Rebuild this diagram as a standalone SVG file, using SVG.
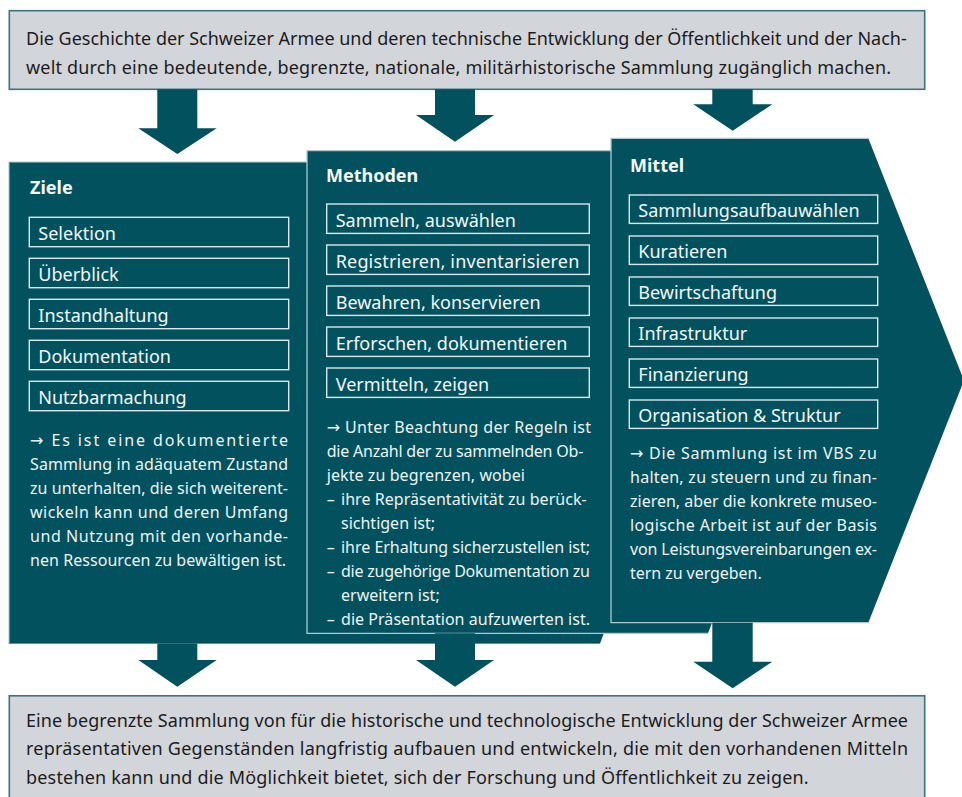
<svg xmlns="http://www.w3.org/2000/svg" width="962" height="797" viewBox="0 0 962 797">
  <defs>
    <style>
      .panel { fill: #02515f; }
      .edge { fill: none; stroke: #b3c8ce; stroke-width: 1.3; }
      .edge-dim { fill: none; stroke: #5d8f9b; stroke-width: 1.2; }
      .item { fill: none; stroke: #dde6e9; stroke-width: 1.4; }
      .frame { fill: #d2d5da; stroke: #3b7381; stroke-width: 1.6; }
      .arrow { fill: #02515f; }
      text { font-family: "Noto Sans", "Open Sans", "DejaVu Sans", sans-serif; }
      .title { font-size: 18px; font-weight: bold; fill: #f4f7f8; }
      .label { font-size: 18px; fill: #f4f7f8; }
      .body { font-size: 16px; fill: #eef3f4; }
      .lead { font-size: 18px; fill: #1c1c1c; }
    </style>
  </defs>

  <!-- Mission statement -->
  <g id="mission">
    <rect class="frame" x="9.3" y="10.7" width="915.4" height="78.6"/>
    <text class="lead" x="26" y="45" textLength="880.7" lengthAdjust="spacing">Die Geschichte der Schweizer Armee und deren technische Entwicklung der Öffentlichkeit und der Nach-</text>
    <text class="lead" x="26" y="74" textLength="865" lengthAdjust="spacing">welt durch eine bedeutende, begrenzte, nationale, militärhistorische Sammlung zugänglich machen.</text>
  </g>

  <!-- Ziele -->
  <g id="ziele">
    <polygon class="panel" points="9.3,162.3 600,162.3 690,403 600,643.5 9.3,643.5"/>
    <polyline class="edge-dim" points="600,643.5 9.3,643.5 9.3,162.3 307,162.3"/>
    <text class="title" x="30" y="194">Ziele</text>
    <rect class="item" x="29.3" y="217.3" width="259.4" height="29.4"/>
    <text class="label" x="38.3" y="240">Selektion</text>
    <rect class="item" x="29.3" y="258.3" width="259.4" height="29.4"/>
    <text class="label" x="38.3" y="281">Überblick</text>
    <rect class="item" x="29.3" y="299.3" width="259.4" height="29.4"/>
    <text class="label" x="38.3" y="322">Instandhaltung</text>
    <rect class="item" x="29.3" y="340.3" width="259.4" height="29.4"/>
    <text class="label" x="38.3" y="363">Dokumentation</text>
    <rect class="item" x="29.3" y="381.3" width="259.4" height="29.4"/>
    <text class="label" x="38.3" y="404">Nutzbarmachung</text>
    <text class="body" x="30" y="445.7" textLength="258" lengthAdjust="spacing">→ Es ist eine dokumentierte</text>
    <text class="body" x="30" y="469.9" textLength="258" lengthAdjust="spacing">Sammlung in adäquatem Zustand</text>
    <text class="body" x="30" y="494" textLength="258" lengthAdjust="spacing">zu unterhalten, die sich weiterent-</text>
    <text class="body" x="30" y="518.2" textLength="258" lengthAdjust="spacing">wickeln kann und deren Umfang</text>
    <text class="body" x="30" y="542.3" textLength="258" lengthAdjust="spacing">und Nutzung mit den vorhande-</text>
    <text class="body" x="30" y="566.3" textLength="256" lengthAdjust="spacing">nen Ressourcen zu bewältigen ist.</text>
  </g>

  <!-- Methoden -->
  <g id="methoden">
    <polygon class="panel" points="307,150.7 711,150.7 800,392 708,633.3 307,633.3"/>
    <polyline class="edge" points="708,633.3 307,633.3 307,150.7 611,150.7"/>
    <text class="title" x="326" y="181.7">Methoden</text>
    <rect class="item" x="326.7" y="204" width="262.6" height="29.4"/>
    <text class="label" x="335.7" y="226.7">Sammeln, auswählen</text>
    <rect class="item" x="326.7" y="245" width="262.6" height="29.4"/>
    <text class="label" x="335.7" y="267.7" textLength="243.6" lengthAdjust="spacing">Registrieren, inventarisieren</text>
    <rect class="item" x="326.7" y="286" width="262.6" height="29.4"/>
    <text class="label" x="335.7" y="308.7">Bewahren, konservieren</text>
    <rect class="item" x="326.7" y="327" width="262.6" height="29.4"/>
    <text class="label" x="335.7" y="349.7">Erforschen, dokumentieren</text>
    <rect class="item" x="326.7" y="368" width="262.6" height="29.4"/>
    <text class="label" x="335.7" y="390.7">Vermitteln, zeigen</text>
    <text class="body" x="326.7" y="433.3" textLength="264.3" lengthAdjust="spacing">→ Unter Beachtung der Regeln ist</text>
    <text class="body" x="326.7" y="457.3" textLength="256.6" lengthAdjust="spacing">die Anzahl der zu sammelnden Ob-</text>
    <text class="body" x="326.7" y="481.3" textLength="198.3" lengthAdjust="spacing">jekte zu begrenzen, wobei</text>
    <text class="body" y="505.3"><tspan x="326.7">–</tspan><tspan x="341" textLength="245.7" lengthAdjust="spacing">ihre Repräsentativität zu berück-</tspan></text>
    <text class="body" x="341" y="529.3">sichtigen ist;</text>
    <text class="body" y="553.3"><tspan x="326.7">–</tspan><tspan x="341" textLength="249" lengthAdjust="spacing">ihre Erhaltung sicherzustellen ist;</tspan></text>
    <text class="body" y="577.3"><tspan x="326.7">–</tspan><tspan x="341" textLength="249" lengthAdjust="spacing">die zugehörige Dokumentation zu</tspan></text>
    <text class="body" x="341" y="601.3">erweitern ist;</text>
    <text class="body" y="625.3"><tspan x="326.7">–</tspan><tspan x="341" textLength="249" lengthAdjust="spacing">die Präsentation aufzuwerten ist.</tspan></text>
  </g>

  <!-- Mittel -->
  <g id="mittel">
    <polygon class="panel" points="611,138.3 868.3,138.3 964,380.5 868.3,622.7 611,622.7"/>
    <polyline class="edge" points="868.3,622.7 611,622.7 611,138.3 868.3,138.3"/>
    <text class="title" x="630" y="171.7">Mittel</text>
    <rect class="item" x="629.3" y="195" width="248.4" height="28.4"/>
    <text class="label" x="638.3" y="217.3">Sammlungsaufbauwählen</text>
    <rect class="item" x="629.3" y="236" width="248.4" height="28.4"/>
    <text class="label" x="638.3" y="258.3">Kuratieren</text>
    <rect class="item" x="629.3" y="277" width="248.4" height="28.4"/>
    <text class="label" x="638.3" y="299.3">Bewirtschaftung</text>
    <rect class="item" x="629.3" y="318" width="248.4" height="28.4"/>
    <text class="label" x="638.3" y="340.3">Infrastruktur</text>
    <rect class="item" x="629.3" y="359" width="248.4" height="28.4"/>
    <text class="label" x="638.3" y="381.3">Finanzierung</text>
    <rect class="item" x="629.3" y="400" width="248.4" height="28.4"/>
    <text class="label" x="638.3" y="422.3">Organisation &amp; Struktur</text>
    <text class="body" x="630" y="459" textLength="247" lengthAdjust="spacing">→ Die Sammlung ist im VBS zu</text>
    <text class="body" x="630" y="483" textLength="247" lengthAdjust="spacing">halten, zu steuern und zu finan-</text>
    <text class="body" x="630" y="507" textLength="247" lengthAdjust="spacing">zieren, aber die konkrete museo-</text>
    <text class="body" x="630" y="531" textLength="247" lengthAdjust="spacing">logische Arbeit ist auf der Basis</text>
    <text class="body" x="630" y="555" textLength="247" lengthAdjust="spacing">von Leistungsvereinbarungen ex-</text>
    <text class="body" x="630" y="578.5" textLength="131.7" lengthAdjust="spacing">tern zu vergeben.</text>
  </g>

  <!-- Connectors: block arrows -->
  <g id="connectors">
    <polygon class="arrow" points="157.3,89.3 197.3,89.3 197.3,128.3 216.7,128.3 177.3,154 138.3,128.3 157.3,128.3"/>
    <polygon class="arrow" points="435,89.3 475,89.3 475,115 494,115 455,141.7 416,115 435,115"/>
    <polygon class="arrow" points="712.3,89.3 752.7,89.3 752.7,104.3 772.3,104.3 732.7,130.7 693.3,104.3 712.3,104.3"/>
    <polygon class="arrow" points="157.3,643.5 197.3,643.5 197.3,660 216.7,660 177.3,686.7 138.3,660 157.3,660"/>
    <polygon class="arrow" points="435,633.3 475,633.3 475,660 494,660 455,686.7 416,660 435,660"/>
    <polygon class="arrow" points="712.3,622.7 752.7,622.7 752.7,661.7 772.3,661.7 732.7,688.3 693.3,661.7 712.3,661.7"/>
  </g>

  <!-- Outcome statement -->
  <g id="outcome">
    <rect class="frame" x="9.3" y="695.8" width="915.4" height="110"/>
    <text class="lead" x="26" y="727.3" textLength="882" lengthAdjust="spacing">Eine begrenzte Sammlung von für die historische und technologische Entwicklung der Schweizer Armee</text>
    <text class="lead" x="26" y="755.3" textLength="882" lengthAdjust="spacing">repräsentativen Gegenständen langfristig aufbauen und entwickeln, die mit den vorhandenen Mitteln</text>
    <text class="lead" x="26" y="784" textLength="782.6" lengthAdjust="spacing">bestehen kann und die Möglichkeit bietet, sich der Forschung und Öffentlichkeit zu zeigen.</text>
  </g>
</svg>
